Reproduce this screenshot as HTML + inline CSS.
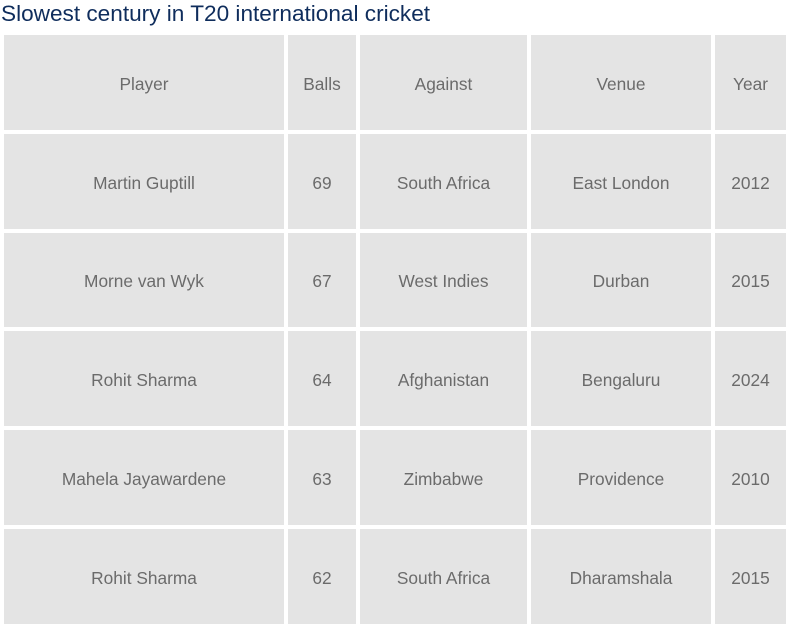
<!DOCTYPE html>
<html><head><meta charset="utf-8"><style>
body{margin:0;width:786px;height:616px;overflow:hidden;background:#fff;font-family:"Liberation Sans",sans-serif;position:relative}
#title{position:absolute;left:1px;top:0;font-size:22.6px;color:#0f2d5c;line-height:28px;white-space:nowrap}
.c{position:absolute;background:#e4e4e4;color:#6b6b6b;font-size:17.3px;display:flex;align-items:center;justify-content:center;white-space:nowrap;box-sizing:border-box;padding-top:3px}
</style></head><body>
<div id="title">Slowest century in T20 international cricket</div>
<div id="t"></div>
<script>
const headers=["Player","Balls","Against","Venue","Year"];
const players=["Martin Guptill","Morne van Wyk","Rohit Sharma","Mahela Jayawardene","Rohit Sharma"];
const balls=["69","67","64","63","62"];
const against=["South Africa","West Indies","Afghanistan","Zimbabwe","South Africa"];
const venues=["East London","Durban","Bengaluru","Providence","Dharamshala"];
const years=["2012","2015","2024","2010","2015"];
const colX=[4,288,360,531,715],colW=[280,68,167,180,71];
const rowY=[35,134,233,331,430,529],rowH=[95,95,94,95,95,95];
const t=document.getElementById('t');
const rows=[headers];
for(let i=0;i<players.length;i++)rows.push([players[i],balls[i],against[i],venues[i],years[i]]);
const names=["player","balls","against","venue","year"];
rows.forEach((r,ri)=>r.forEach((v,ci)=>{
const d=document.createElement('div');d.className='c';


d.style.left=colX[ci]+'px';d.style.top=rowY[ri]+'px';d.style.width=colW[ci]+'px';d.style.height=rowH[ri]+'px';
d.textContent=v;t.appendChild(d);}));
</script>
</body></html>
